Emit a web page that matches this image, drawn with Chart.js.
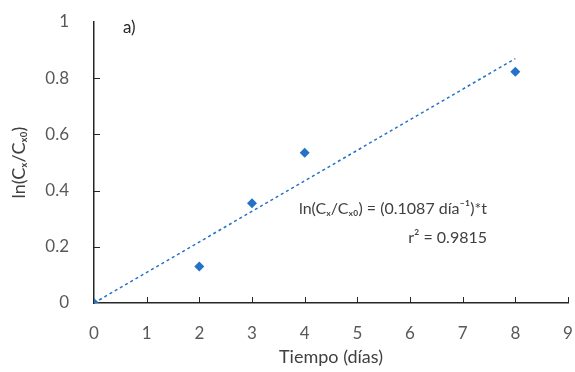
<!DOCTYPE html>
<html lang="es">
<head>
<meta charset="utf-8">
<title>ln(Cx/Cx0) vs tiempo</title>
<script src="https://cdn.jsdelivr.net/npm/chart.js@4/dist/chart.umd.min.js"></script>
<style>
  html, body { margin: 0; padding: 0; background: #fff; }
  #wrap { width: 575px; height: 372px; }
</style>
</head>
<body>
<div id="wrap"><canvas id="chart"></canvas></div>
<script>
// datos
var dias = [0, 2, 3, 4, 8];
var lnC = [0, 0.13, 0.355, 0.535, 0.823];
var tendX = [0, 8];
var tendY = [0, 0.8696];
var xTicks = [0, 1, 2, 3, 4, 5, 6, 7, 8, 9];
var yTicks = [0, 0.2, 0.4, 0.6, 0.8, 1];

var azul = '#2472c8';
var gris = '#595959';
var fuente = 'Lato, "Open Sans", sans-serif';

// marcas de graduación hacia dentro + textos
var extras = {
  id: 'extras',
  afterDraw: function(chart) {
    var ctx = chart.ctx, xs = chart.scales.x, ys = chart.scales.y;
    var a = chart.chartArea;
    ctx.save();
    ctx.strokeStyle = '#262626';
    ctx.lineWidth = 1;
    xTicks.forEach(function(v) {
      if (v === 0) return;
      var px = Math.round(xs.getPixelForValue(v)) + 0.5;
      ctx.beginPath(); ctx.moveTo(px, a.bottom); ctx.lineTo(px, a.bottom - 6); ctx.stroke();
    });
    yTicks.forEach(function(v) {
      if (v === 0 || v === 1) return;
      var py = Math.round(ys.getPixelForValue(v)) + 0.5;
      ctx.beginPath(); ctx.moveTo(a.left, py); ctx.lineTo(a.left + 6, py); ctx.stroke();
    });
    ctx.fillStyle = '#262626';
    ctx.font = '17px ' + fuente;
    ctx.textBaseline = 'middle';
    ctx.textAlign = 'left';
    ctx.fillText('a)', xs.getPixelForValue(0.55), ys.getPixelForValue(0.98));
    ctx.fillStyle = '#404040';
    ctx.font = '16px ' + fuente;
    ctx.textAlign = 'right';
    ctx.fillText('ln(Cₓ/Cₓ₀) = (0.1087 día⁻¹)*t', 487, 209);
    ctx.fillText('r² = 0.9815', 487, 238);
    ctx.restore();
  }
};

new Chart(document.getElementById('chart'), {
  type: 'scatter',
  data: {
    datasets: [{
      data: dias.map(function(d, i) { return { x: d, y: lnC[i] }; }),
      pointStyle: 'rectRot',
      pointRadius: 5,
      backgroundColor: azul,
      borderColor: azul,
      borderWidth: 0,
      order: 1
    }, {
      type: 'line',
      data: tendX.map(function(d, i) { return { x: d, y: tendY[i] }; }),
      borderColor: azul,
      borderWidth: 1.5,
      borderDash: [3, 3],
      pointRadius: 0,
      fill: false,
      order: 2
    }]
  },
  options: {
    responsive: true,
    maintainAspectRatio: false,
    animation: false,
    layout: { padding: { top: 22, right: 0, left: 0, bottom: 0 } },
    plugins: { legend: { display: false }, tooltip: { enabled: false } },
    scales: {
      x: {
        type: 'linear', min: 0, max: 9,
        afterBuildTicks: function(s) { s.ticks = xTicks.map(function(v) { return { value: v }; }); },
        afterFit: function(s) { s.height = 69; s.paddingRight = 7; s.paddingLeft = 0; },
        grid: { display: false },
        border: { display: true, color: '#262626', width: 1.5 },
        ticks: { color: gris, padding: 12, font: { family: fuente, size: 17 } },
        title: { display: true, text: 'Tiempo (días)', color: '#404040', padding: { top: 9 }, font: { family: fuente, size: 18 } }
      },
      y: {
        type: 'linear', min: 0, max: 1,
        afterBuildTicks: function(s) { s.ticks = yTicks.map(function(v) { return { value: v }; }); },
        afterFit: function(s) { s.width = 94; s.paddingTop = 0; s.paddingBottom = 0; },
        grid: { display: false },
        border: { display: true, color: '#262626', width: 1.5 },
        ticks: {
          color: gris, padding: 17, font: { family: fuente, size: 17 },
          callback: function(v) { return String(v); }
        },
        title: { display: true, text: 'ln(Cₓ/Cₓ₀)', color: '#404040', padding: { top: 8, bottom: 4 }, font: { family: fuente, size: 18 } }
      }
    }
  },
  plugins: [extras]
});
</script>
</body>
</html>
